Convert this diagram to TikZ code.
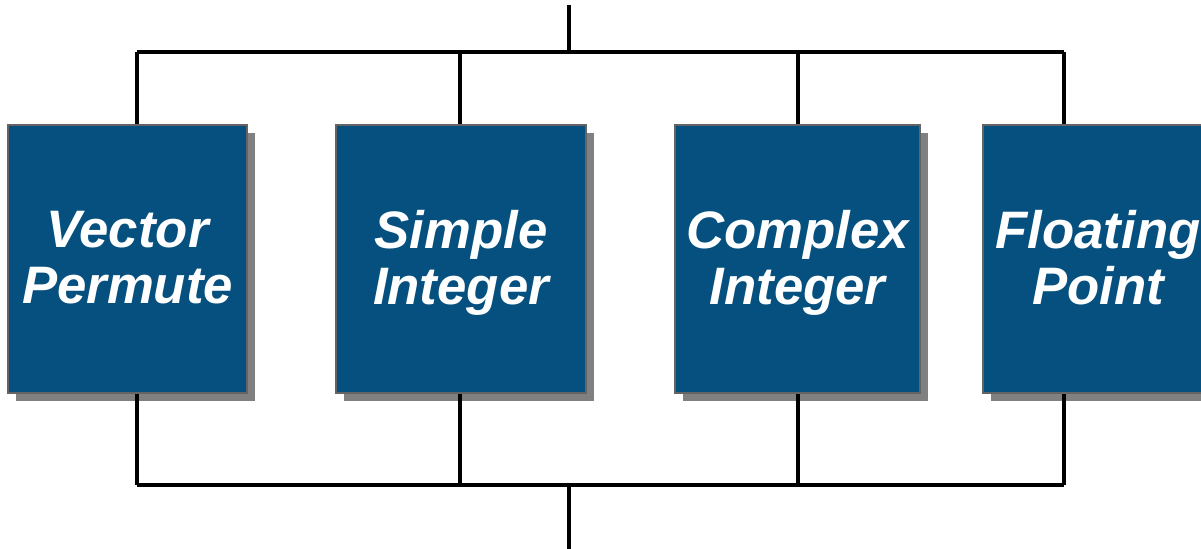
\documentclass[tikz,border=0pt]{standalone}
\usepackage{fontspec}
\setmainfont{Liberation Sans}
\usetikzlibrary{shadows}
\definecolor{unitblue}{HTML}{05507F}
\definecolor{unitedge}{HTML}{646464}
\definecolor{unitshade}{HTML}{808080}

\begin{document}
\begin{tikzpicture}[line width=2.5pt,
  unit/.style={draw=unitedge,line width=1.1pt,fill=unitblue,text=white,
    minimum height=5.36cm,align=center,inner sep=0pt,text depth=2pt,
    font=\fontsize{30}{32}\selectfont\bfseries\itshape,
    drop shadow={shadow xshift=0.15cm,shadow yshift=-0.16cm,fill=unitshade,opacity=1}}]
\useasboundingbox (0,0) rectangle (24.02,10.98);
\clip (0,0) rectangle (24.02,10.98);
% bus taps above and below the units
\coordinate (in) at (11.38,10.88);
\coordinate (out) at (11.38,0);
\coordinate (t1) at (2.74,9.94);
\coordinate (t2) at (9.20,9.94);
\coordinate (t3) at (15.96,9.94);
\coordinate (t4) at (21.28,9.94);
\coordinate (b1) at (2.74,1.28);
\coordinate (b2) at (9.20,1.28);
\coordinate (b3) at (15.96,1.28);
\coordinate (b4) at (21.28,1.28);
% execution units
\node[unit,minimum width=4.78cm] (vec) at (2.55,5.8) {Vector\\Permute};
\node[unit,minimum width=5.0cm] (sint) at (9.22,5.8) {Simple\\Integer};
\node[unit,minimum width=4.9cm] (cint) at (15.95,5.8) {Complex\\Integer};
\node[unit,minimum width=4.6cm] (fpu) at (21.96,5.8) {Floating\\Point};
% issue and result buses
\draw (in)--(in|-t1);
\draw (t1)--(t4);
\draw (out)--(out|-b1);
\draw (b1)--(b4);
\draw (t1)--(t1|-vec.north) (b1)--(b1|-vec.south);
\draw (t2)--(t2|-sint.north) (b2)--(b2|-sint.south);
\draw (t3)--(t3|-cint.north) (b3)--(b3|-cint.south);
\draw (t4)--(t4|-fpu.north) (b4)--(b4|-fpu.south);
\end{tikzpicture}
\end{document}
